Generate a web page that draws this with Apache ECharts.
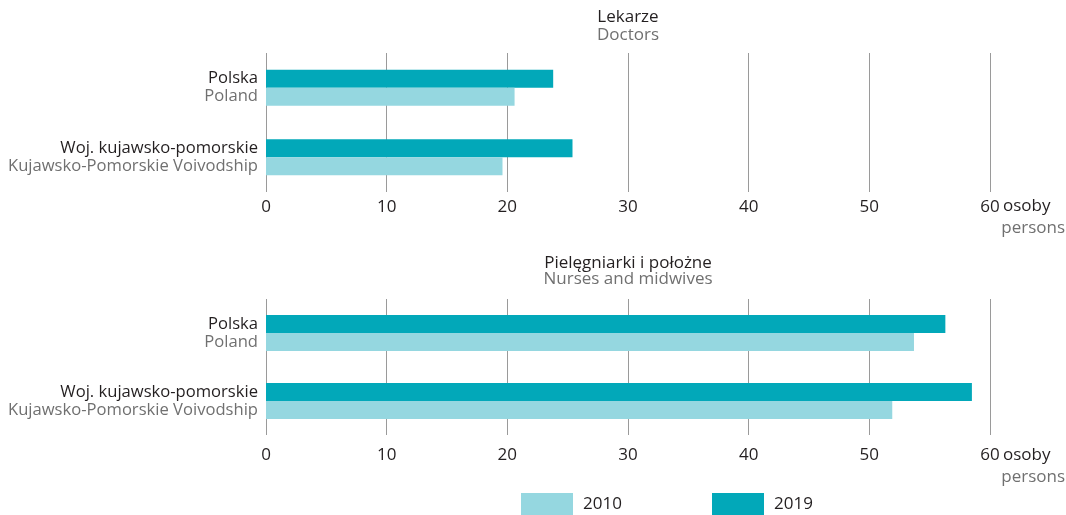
<!DOCTYPE html>
<html><head><meta charset="utf-8">
<script src="https://cdn.jsdelivr.net/npm/echarts@6/dist/echarts.min.js"></script>
<style>html,body{margin:0;padding:0;background:#fff}#c{width:1066px;height:515px}</style>
</head><body><div id="c"></div>
<script>
const categoriesPL = ['Polska', 'Woj. kujawsko-pomorskie'];
const categoriesEN = ['Poland', 'Kujawsko-Pomorskie Voivodship'];
const years = ['2010', '2019'];
const doctors2010 = [20.6, 19.6];
const doctors2019 = [23.8, 25.4];
const nurses2010 = [53.7, 51.9];
const nurses2019 = [56.3, 58.5];
const xTicks = [0, 10, 20, 30, 40, 50, 60];

const FONT = 'Open Sans';
const FS = 17;
const FSY = 16.6;
const C2010 = '#95d7e0', C2019 = '#02a8b9';
const DARK = '#231f20', GREY = '#707070', GRID = '#9a9a9a';
const catKeys = categoriesPL.map((c, i) => i);

function xAxis(gi, margin) {
  return {
    gridIndex: gi, type: 'value', min: xTicks[0], max: xTicks[xTicks.length - 1], interval: 10,
    axisLine: {show: false}, axisTick: {show: false},
    splitLine: {show: true, lineStyle: {color: GRID, width: 1}},
    axisLabel: {fontFamily: FONT, fontSize: FS, color: DARK, margin: margin}
  };
}
function yAxis(gi) {
  return {
    gridIndex: gi, type: 'category', inverse: true, data: catKeys,
    axisLine: {show: false}, axisTick: {show: false},
    axisLabel: {
      margin: 8, align: 'right',
      formatter: v => '{a|' + categoriesPL[v] + '}\n{b|' + categoriesEN[v] + '}',
      rich: {
        a: {fontFamily: FONT, fontSize: FSY, color: DARK, lineHeight: 18, align: 'right'},
        b: {fontFamily: FONT, fontSize: FSY, color: GREY, lineHeight: 18, align: 'right'}
      }
    }
  };
}
function series(gi, name, data, color) {
  return {
    type: 'bar', name: name, xAxisIndex: gi, yAxisIndex: gi, data: data,
    barWidth: 18, barGap: '0%', itemStyle: {color: color}, silent: true, animation: false
  };
}
function titleBlock(top, gap, pl, en) {
  return [
    {text: pl, left: 628, top: top, textAlign: 'center', padding: 0,
     textStyle: {fontFamily: FONT, fontSize: FS, fontWeight: 'normal', color: DARK}},
    {text: en, left: 628, top: top + gap, textAlign: 'center', padding: 0,
     textStyle: {fontFamily: FONT, fontSize: FS, fontWeight: 'normal', color: GREY}}
  ];
}
function unitBlock(top) {
  return [
    {text: 'osoby', left: 1003, top: top, padding: 0,
     textStyle: {fontFamily: FONT, fontSize: FS, fontWeight: 'normal', color: DARK}},
    {text: 'persons', right: 1, top: top + 22, padding: 0,
     textStyle: {fontFamily: FONT, fontSize: FS, fontWeight: 'normal', color: GREY}}
  ];
}

const chart = echarts.init(document.getElementById('c'));
chart.setOption({
  animation: false,
  title: [].concat(titleBlock(9, 18, 'Lekarze', 'Doctors'), titleBlock(255, 16, 'Pielęgniarki i położne', 'Nurses and midwives'),
                   unitBlock(198), unitBlock(447)),
  grid: [
    {left: 266, right: 76, top: 53, height: 139},
    {left: 266, right: 76, top: 299, height: 136}
  ],
  xAxis: [xAxis(0, 7), xAxis(1, 12)],
  yAxis: [yAxis(0), yAxis(1)],
  legend: [
    {data: [years[0]], left: 521, top: 493, itemWidth: 52, itemHeight: 22, itemGap: 0, padding: 0,
     icon: 'rect', selectedMode: false,
     textStyle: {fontFamily: FONT, fontSize: FS, color: DARK, padding: [0, 0, 0, 5]}},
    {data: [years[1]], left: 712, top: 493, itemWidth: 52, itemHeight: 22, itemGap: 0, padding: 0,
     icon: 'rect', selectedMode: false,
     textStyle: {fontFamily: FONT, fontSize: FS, color: DARK, padding: [0, 0, 0, 5]}}
  ],
  series: [
    series(0, years[1], doctors2019, C2019),
    series(0, years[0], doctors2010, C2010),
    series(1, years[1], nurses2019, C2019),
    series(1, years[0], nurses2010, C2010)
  ]
});
</script></body></html>
